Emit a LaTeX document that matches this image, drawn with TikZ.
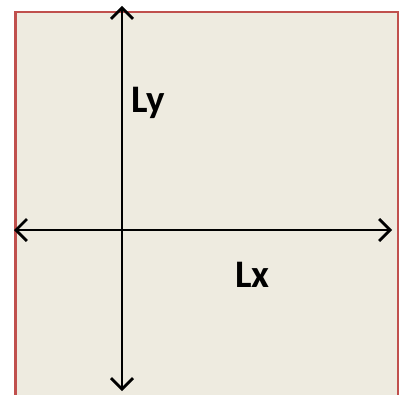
\documentclass[tikz,border=0pt]{standalone}
\usepackage{fontspec}
\setmainfont{Carlito}
\usetikzlibrary{arrows.meta}
\definecolor{bgtan}{HTML}{EEEBE0}
\definecolor{bordred}{HTML}{C0504D}
\tikzset{
  axis/.style={line width=2.8pt, black, {Straight Barb[length=11pt,width=22pt,line width=2.8pt]}-{Straight Barb[length=11pt,width=22pt,line width=2.8pt]}},
  lbl/.style={inner sep=0pt, anchor=base west, font=\fontsize{39}{44}\selectfont\bfseries}
}
\begin{document}
\begin{tikzpicture}[x=1pt,y=1pt]
\useasboundingbox (0,0) rectangle (401,394);
\clip (0,0) rectangle (401,394);
\fill[white] (0,0) rectangle (401,394);
\draw[bordred, line width=2.4pt, fill=bgtan] (15.5,-10) rectangle (398,382);
\coordinate (ytop) at (122,388);
\coordinate (ybot) at (122,3);
\coordinate (xleft) at (14,164);
\coordinate (xright) at (392,164);
\draw[axis] (ybot) -- (ytop);
\draw[axis] (xleft) -- (xright);
\node[lbl] (ly) at (131,281) {Ly};
\node[lbl] (lx) at (235,107) {Lx};
\end{tikzpicture}
\end{document}
